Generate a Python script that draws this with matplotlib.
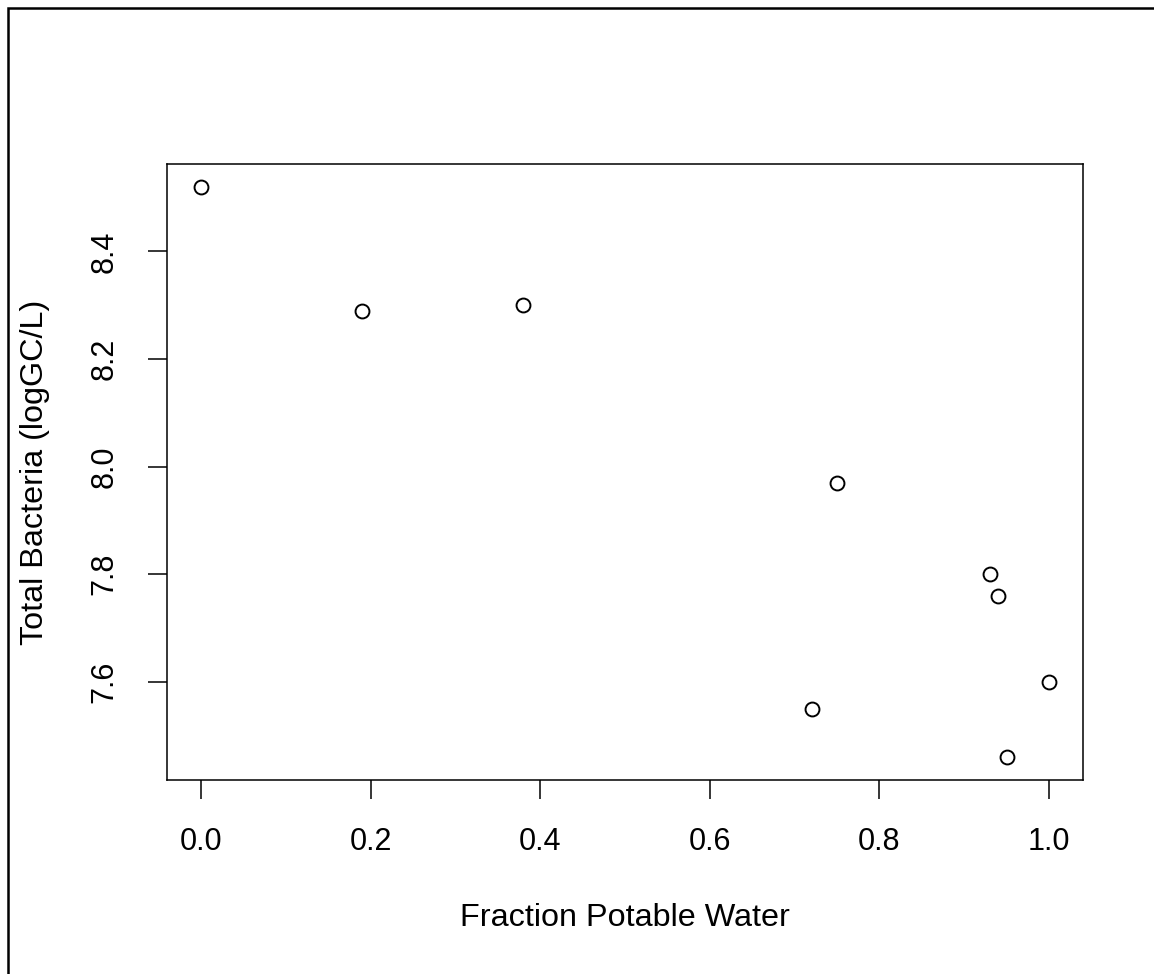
import matplotlib
matplotlib.use("Agg")
from matplotlib import pyplot as plt
from matplotlib.patches import Rectangle

# data
fraction_potable = [0.0, 0.19, 0.38, 0.75, 0.72, 0.93, 0.94, 1.0, 0.95]
total_bacteria = [8.52, 8.29, 8.30, 7.97, 7.55, 7.80, 7.76, 7.60, 7.46]

x_ticks = [0.0, 0.2, 0.4, 0.6, 0.8, 1.0]
y_ticks = [7.6, 7.8, 8.0, 8.2, 8.4]

plt.rcParams['font.family'] = ['Liberation Sans', 'DejaVu Sans']

W, H = 1154, 974
fig = plt.figure(figsize=(W / 100, H / 100), dpi=100)
ax = fig.add_axes([167 / W, 1 - 780 / H, (1083 - 167) / W, (780 - 164) / H])

ax.plot(fraction_potable, total_bacteria, linestyle='none', marker='o',
        markersize=10, markerfacecolor='none', markeredgecolor='black',
        markeredgewidth=1.4)

# R style axis extension (4% each side)
ax.margins(x=0.04, y=0.04)

ax.set_xticks(x_ticks)
ax.set_xticklabels([f'{v:.1f}' for v in x_ticks])
ax.set_yticks(y_ticks)
ax.set_yticklabels([f'{v:.1f}' for v in y_ticks], rotation=90, va='center')

ax.tick_params(axis='both', length=14, width=1.1, labelsize=22, direction='out')
ax.tick_params(axis='x', pad=20)
ax.tick_params(axis='y', pad=20)

for s in ax.spines.values():
    s.set_linewidth(1.1)

ax.set_xlabel('Fraction Potable Water', fontsize=23.3)
ax.set_ylabel('Total Bacteria (logGC/L)', fontsize=23.3)
# place axis titles where the R margins put them
ax.xaxis.set_label_coords(0.5, (780 - 903) / 616)
ax.yaxis.set_label_coords((50 - 167) / 916, 0.5)

# border around the whole picture (only top and left edges show)
fig.patches.append(Rectangle((8 / W, -0.1), 2, 1.1 - 8 / H, transform=fig.transFigure,
                             fill=False, edgecolor='black', linewidth=1.8))

plt.savefig('out.png', dpi=100)
plt.close()
